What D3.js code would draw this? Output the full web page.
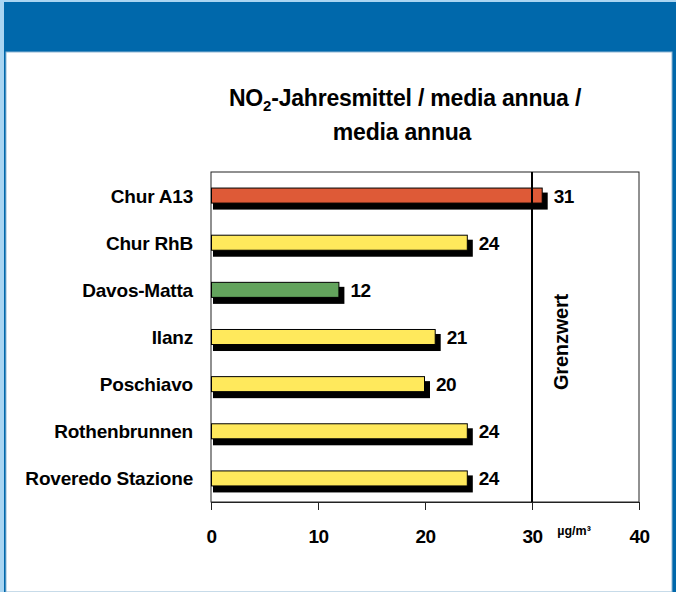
<!DOCTYPE html>
<html>
<head>
<meta charset="utf-8">
<script src="https://cdn.jsdelivr.net/npm/d3@7"></script>
<style>
  body { margin: 0; background: #a9d5f2; }
  text { font-family: "Liberation Sans", Arial, sans-serif; font-weight: bold; fill: #000; }
</style>
</head>
<body>
<div id="chart"></div>
<script>
var stations = ["Chur A13", "Chur RhB", "Davos-Matta", "Ilanz", "Poschiavo", "Rothenbrunnen", "Roveredo Stazione"];
var values = [31, 24, 12, 21, 20, 24, 24];
var siteType = ["traffic", "urban", "rural", "urban", "urban", "urban", "urban"];
var ticks = [0, 10, 20, 30, 40];
var limit = 30;

var W = 676, H = 592;
var svg = d3.select("#chart").append("svg")
    .attr("width", W)
    .attr("height", H);

// frame
svg.append("rect").attr("x", 0).attr("y", 0).attr("width", W).attr("height", H).attr("fill", "#a9d5f2");
svg.append("rect").attr("x", 4).attr("y", 2).attr("width", W - 4).attr("height", H - 2).attr("fill", "#0068ab");
svg.append("rect").attr("x", 6).attr("y", 52).attr("width", 666).attr("height", H - 52)
    .attr("fill", "#fff").attr("stroke", "#8fb6d3").attr("stroke-width", 1);

var data = stations.map(function (d, i) { return { name: d, value: values[i], type: siteType[i] }; });

var x = d3.scaleLinear().domain([0, 40]).range([211, 639]);
var y = d3.scaleBand().domain(stations).range([172, 502]).paddingInner(0.66).paddingOuter(0.33);
var color = d3.scaleOrdinal().domain(["traffic", "urban", "rural"]).range(["#de5a37", "#ffe95c", "#63a45d"]);

// plot box
svg.append("rect")
    .attr("x", x(0)).attr("y", 172)
    .attr("width", x(40) - x(0)).attr("height", 330)
    .attr("fill", "none").attr("stroke", "#222").attr("stroke-width", 1);

// shadows
svg.selectAll(".shadow")
    .data(data)
    .enter().append("rect")
    .attr("class", "shadow")
    .attr("x", x(0) + 2)
    .attr("y", function (d) { return y(d.name) + 5; })
    .attr("width", function (d) { return x(d.value) - x(0) + 3; })
    .attr("height", y.bandwidth() + 1)
    .attr("fill", "#000");

// bars
svg.selectAll(".bar")
    .data(data)
    .enter().append("rect")
    .attr("class", "bar")
    .attr("x", x(0) + 0.5)
    .attr("y", function (d) { return y(d.name) + 0.5; })
    .attr("width", function (d) { return x(d.value) - x(0) - 1; })
    .attr("height", y.bandwidth() - 1)
    .attr("fill", function (d) { return color(d.type); })
    .attr("stroke", "#000")
    .attr("stroke-width", 1);

// limit line
svg.append("line")
    .attr("x1", x(limit)).attr("x2", x(limit))
    .attr("y1", 172).attr("y2", 502)
    .attr("stroke", "#000").attr("stroke-width", 2);

svg.append("text")
    .attr("transform", "translate(" + (x(limit) + 36) + ",342) rotate(-90)")
    .attr("text-anchor", "middle")
    .style("font-size", "20px")
    .style("letter-spacing", "-0.2px")
    .text("Grenzwert");

// value labels
svg.selectAll(".val")
    .data(data)
    .enter().append("text")
    .attr("class", "val")
    .attr("x", function (d) { return x(d.value) + 11; })
    .attr("y", function (d) { return y(d.name) + y.bandwidth() / 2 + 7; })
    .style("font-size", "19px")
    .style("letter-spacing", "-0.5px")
    .text(function (d) { return d.value; });

// category labels
svg.selectAll(".cat")
    .data(data)
    .enter().append("text")
    .attr("class", "cat")
    .attr("x", 193)
    .attr("y", function (d) { return y(d.name) + y.bandwidth() / 2 + 7; })
    .attr("text-anchor", "end")
    .style("font-size", "19px")
    .style("letter-spacing", "-0.2px")
    .text(function (d) { return d.name; });

// x axis
var xAxis = d3.axisBottom(x).tickValues(ticks).tickSize(8).tickPadding(20).tickFormat(d3.format("d"));
var gx = svg.append("g")
    .attr("transform", "translate(0,502)")
    .call(xAxis);
gx.select(".domain").attr("stroke", "#222");
gx.selectAll(".tick line").attr("stroke", "#222");
gx.selectAll("text")
    .style("font-size", "19px")
    .style("letter-spacing", "-0.5px")
    .style("font-family", "'Liberation Sans', Arial, sans-serif")
    .style("font-weight", "bold");

svg.append("text")
    .attr("x", 574).attr("y", 535)
    .attr("text-anchor", "middle")
    .style("font-size", "12.5px")
    .text("µg/m³");

// title
var t1 = svg.append("text")
    .attr("x", 405).attr("y", 106)
    .attr("text-anchor", "middle")
    .style("font-size", "23px")
    .style("letter-spacing", "-0.2px");
t1.append("tspan").text("NO");
t1.append("tspan").attr("dy", 5).style("font-size", "15px").text("2");
t1.append("tspan").attr("dy", -5).text("-Jahresmittel / media annua /");

svg.append("text")
    .attr("x", 402).attr("y", 140)
    .attr("text-anchor", "middle")
    .style("font-size", "23px")
    .style("letter-spacing", "-0.2px")
    .text("media annua");
</script>
</body>
</html>
